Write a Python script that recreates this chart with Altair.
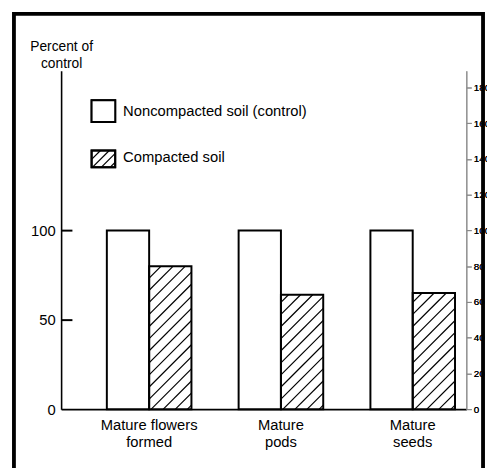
import altair as alt
import pandas as pd

categories = ["Mature flowers\nformed", "Mature\npods", "Mature\nseeds"]
control = [100, 100, 100]
compacted = [80, 64, 65]
series_names = ["Noncompacted soil (control)", "Compacted soil"]
y_ticks = [0, 50, 100]

# layout
W, H = 412, 344
XMIN, XMAX = -0.668, 2.407
YMIN, YMAX = 0, 189.3
BW = 0.321  # bar width in group units
kx = W / (XMAX - XMIN)
ky = H / (YMAX - YMIN)
FONT = "Liberation Sans"

rows = []
for i, (c, v1, v2) in enumerate(zip(categories, control, compacted)):
    rows.append({"idx": i, "series": series_names[0], "x0": i - BW, "x1": i, "v": v1})
    rows.append({"idx": i, "series": series_names[1], "x0": i, "x1": i + BW, "v": v2})
bars = pd.DataFrame(rows)


def hatch(x0, x1, v, s=12.3, phase=4.0):
    w = (x1 - x0) * kx
    h = v * ky
    out = []
    c = -w + phase
    while c < h:
        u0 = max(0.0, -c)
        u1 = min(w, h - c)
        if u1 > u0 + 0.5:
            out.append({"hx": x0 + u0 / kx, "hy": (u0 + c) / ky,
                        "hx2": x0 + u1 / kx, "hy2": (u1 + c) / ky})
        c += s
    return out


hrows = []
for r in rows:
    if r["series"] == series_names[1]:
        hrows += hatch(r["x0"], r["x1"], r["v"])
hatch_df = pd.DataFrame(hrows)

xs = alt.Scale(domain=[XMIN, XMAX], nice=False, zero=False)
ys = alt.Scale(domain=[YMIN, YMAX], nice=False, zero=False)

base = alt.Chart(bars)

fill_bars = base.mark_rect(fill="white", stroke=None).encode(
    x=alt.X("x0:Q", scale=xs,
            axis=alt.Axis(labels=False, ticks=False, title=None, grid=False,
                          domainColor="black", domainWidth=2)),
    x2="x1:Q",
    y=alt.Y("v:Q", scale=ys,
            axis=alt.Axis(values=y_ticks, ticks=False, grid=False, labelPadding=6,
                          labelFontSize=15, labelColor="black", labelFont=FONT,
                          domainColor="black", domainWidth=1.6,
                          title=["Percent of", "control"], titleAngle=0, titleX=0,
                          titleY=-21, titleAlign="center", titleBaseline="alphabetic",
                          titleFontSize=14, titleFontWeight="normal", titleFont=FONT,
                          titleColor="black", titleLineHeight=18)),
    y2=alt.datum(0),
)

hatch_lines = alt.Chart(hatch_df).mark_rule(color="black", strokeWidth=1.2).encode(
    x=alt.X("hx:Q", scale=xs), x2="hx2:Q",
    y=alt.Y("hy:Q", scale=ys), y2="hy2:Q",
)

outline = base.mark_rect(fill=None, stroke="black", strokeWidth=2).encode(
    x=alt.X("x0:Q", scale=xs), x2="x1:Q",
    y=alt.Y("v:Q", scale=ys), y2=alt.datum(0),
)

# inward ticks: a second axis (orient right) moved onto the left edge of the plot,
# so its outward ticks point into the plot
tick_df = pd.DataFrame({"t": y_ticks[1:]})
inner_ticks = alt.Chart(tick_df).mark_point(opacity=0).encode(
    x=alt.value(0),
    y=alt.Y("t:Q", scale=ys,
            axis=alt.Axis(orient="right", offset=-W, values=y_ticks[1:], labels=False,
                          domain=False, ticks=True, tickSize=11, tickWidth=2,
                          tickColor="black", grid=False, title=None)),
)

cat_df = pd.DataFrame({"idx": list(range(len(categories))), "label": categories})
cat_labels = alt.Chart(cat_df).mark_text(
    font=FONT, fontSize=15, color="black", align="center", baseline="alphabetic",
    lineBreak="\n", lineHeight=18,
).encode(x=alt.X("idx:Q", scale=xs), y=alt.value(365), text="label:N")

# legend (drawn manually)
leg_df = pd.DataFrame({"name": series_names, "ly": [41, 88]})
leg_text = alt.Chart(leg_df).mark_text(
    font=FONT, fontSize=15, color="black", align="left", baseline="middle",
).encode(x=alt.value(63), y=alt.Y("ly:Q", scale=None, axis=None), text="name:N")

leg_box1 = alt.Chart(leg_df).mark_rect(fill="white", stroke="black", strokeWidth=2).encode(
    x=alt.value(31), x2=alt.value(55), y=alt.value(30), y2=alt.value(52))

lx0, lx1, ly0, ly1 = 31, 55, 81, 98
lrows = []
c = -(lx1 - lx0) + 5
while c < (ly1 - ly0):
    u0 = max(0.0, -c)
    u1 = min(lx1 - lx0, (ly1 - ly0) - c)
    if u1 > u0 + 0.5:
        lrows.append({"a": lx0 + u0, "b": ly1 - (u0 + c), "a2": lx0 + u1, "b2": ly1 - (u1 + c)})
    c += 9
leg_hatch_df = pd.DataFrame(lrows)
leg_hatch = alt.Chart(leg_hatch_df).mark_rule(color="black", strokeWidth=1.2).encode(
    x=alt.X("a:Q", scale=None, axis=None), x2="a2:Q",
    y=alt.Y("b:Q", scale=None, axis=None), y2="b2:Q",
)
leg_box2 = alt.Chart(leg_df).mark_rect(fill=None, stroke="black", strokeWidth=2).encode(
    x=alt.value(lx0), x2=alt.value(lx1), y=alt.value(ly0), y2=alt.value(ly1))

frame = alt.Chart(leg_df).mark_rect(fill=None, stroke="black", strokeWidth=3.5).encode(
    x=alt.value(-48), x2=alt.value(429), y=alt.value(-58), y2=alt.value(430))

chart = alt.layer(
    fill_bars, hatch_lines, outline, cat_labels,
    leg_box1, leg_hatch, leg_box2, leg_text, frame, inner_ticks,
).resolve_axis(y="independent").properties(
    width=W, height=H,
    autosize=alt.AutoSizeParams(type="none"),
    padding={"left": 54, "top": 60, "right": 21, "bottom": 56},
    background="white",
).configure(font=FONT).configure_view(stroke=None)

chart.save("out.html", embed_options={"renderer": "svg", "actions": False})
